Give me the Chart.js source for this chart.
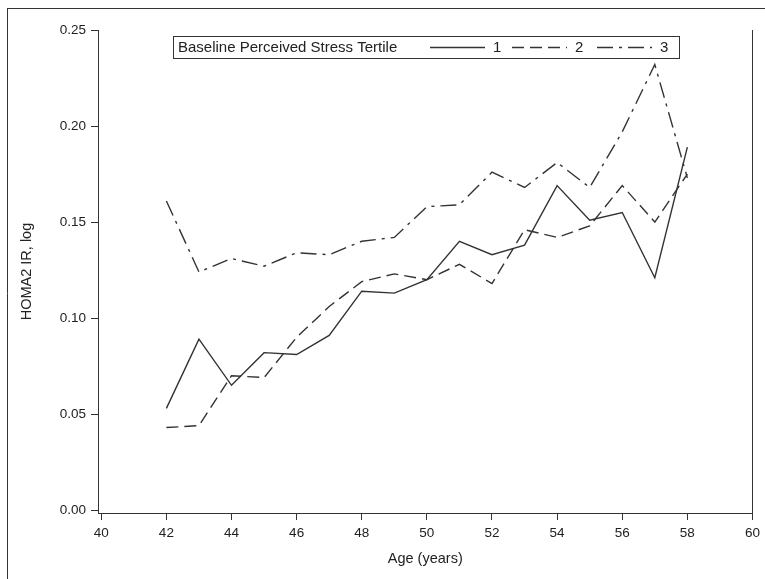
<!DOCTYPE html>
<html>
<head>
<meta charset="utf-8">
<script src="https://cdn.jsdelivr.net/npm/chart.js@4"></script>
<style>
  html, body { margin: 0; padding: 0; background: #fff; }
  #wrap { width: 765px; height: 579px; }
</style>
</head>
<body>
<div id="wrap"><canvas id="stressChart" width="765" height="579"></canvas></div>
<script>
  // ages on x, one array per perceived-stress tertile
  const ages = [42, 43, 44, 45, 46, 47, 48, 49, 50, 51, 52, 53, 54, 55, 56, 57, 58];
  const tertile1 = [0.053, 0.089, 0.065, 0.082, 0.081, 0.091, 0.114, 0.113, 0.120, 0.140, 0.133, 0.138, 0.169, 0.151, 0.155, 0.121, 0.189];
  const tertile2 = [0.043, 0.044, 0.070, 0.069, 0.090, 0.106, 0.119, 0.123, 0.120, 0.128, 0.118, 0.146, 0.142, 0.148, 0.169, 0.150, 0.175];
  const tertile3 = [0.161, 0.124, 0.131, 0.127, 0.134, 0.133, 0.140, 0.142, 0.158, 0.159, 0.176, 0.168, 0.181, 0.168, 0.197, 0.232, 0.173];
  const seriesLabels = ["1", "2", "3"];
  const xTicks = [40, 42, 44, 46, 48, 50, 52, 54, 56, 58, 60];
  const yTicks = [0, 0.05, 0.1, 0.15, 0.2, 0.25];

  const ink = "#333";
  const family = "'Liberation Sans', Arial, sans-serif";
  const tickFont = { family: family, size: 13.5 };
  const titleFont = { family: family, size: 14.5 };

  function toPoints(vals) {
    return ages.map((a, i) => ({ x: a, y: vals[i] }));
  }

  // legend drawn inline: title then sample + label, inside a box
  const boxLegend = {
    id: "boxLegend",
    afterDraw(chart) {
      const c = chart.ctx;
      c.save();
      c.fillStyle = "#fff";
      c.fillRect(173, 36, 506, 22);
      c.strokeStyle = ink;
      c.lineWidth = 1;
      c.strokeRect(173.5, 36.5, 506, 22);
      c.font = "15px " + family;
      c.fillStyle = "#222";
      c.textBaseline = "middle";
      c.fillText("Baseline Perceived Stress Tertile", 178, 48);
      const starts = [430, 512, 597];
      chart.data.datasets.forEach((ds, i) => {
        c.beginPath();
        c.setLineDash(ds.borderDash || []);
        c.lineWidth = ds.borderWidth;
        c.strokeStyle = ds.borderColor;
        c.moveTo(starts[i], 47.5);
        c.lineTo(starts[i] + 55, 47.5);
        c.stroke();
        c.setLineDash([]);
        c.fillText(ds.label, starts[i] + 63, 48);
      });
      c.restore();
    }
  };

  // outer frame pieces and right edge of plot
  const frame = {
    id: "frame",
    afterDraw(chart) {
      const c = chart.ctx;
      const a = chart.chartArea;
      c.save();
      c.strokeStyle = ink;
      c.lineWidth = 1;
      c.beginPath();
      c.moveTo(7, 8.5);
      c.lineTo(765, 8.5);
      c.moveTo(7.5, 8);
      c.lineTo(7.5, 579);
      c.moveTo(Math.round(a.right) + 0.5, a.top);
      c.lineTo(Math.round(a.right) + 0.5, a.bottom);
      c.stroke();
      c.restore();
    }
  };

  const ctx = document.getElementById("stressChart").getContext("2d");
  new Chart(ctx, {
    type: "line",
    data: {
      datasets: [
        { label: seriesLabels[0], data: toPoints(tertile1), borderColor: ink, borderWidth: 1.4, pointRadius: 0, borderDash: [] },
        { label: seriesLabels[1], data: toPoints(tertile2), borderColor: ink, borderWidth: 1.4, pointRadius: 0, borderDash: [12, 6] },
        { label: seriesLabels[2], data: toPoints(tertile3), borderColor: ink, borderWidth: 1.4, pointRadius: 0, borderDash: [16, 6, 3, 6] },
      ],
    },
    options: {
      responsive: false,
      animation: false,
      layout: { padding: { top: 30, right: 12, left: 0, bottom: 0 } },
      plugins: { legend: { display: false }, tooltip: { enabled: false } },
      scales: {
        x: {
          type: "linear",
          min: 39.9,
          max: 60,
          afterBuildTicks: (s) => { s.ticks = xTicks.map((v) => ({ value: v })); },
          afterFit: (s) => { s.height = 66; },
          ticks: { color: "#222", font: tickFont, padding: 5, maxRotation: 0, callback: (v) => v },
          grid: { drawOnChartArea: false, tickLength: 7, color: ink },
          border: { color: ink, width: 1 },
          title: { display: true, text: "Age (years)", color: "#222", font: titleFont, padding: { top: 0, bottom: 11 } },
        },
        y: {
          min: -0.0015,
          max: 0.25,
          afterBuildTicks: (s) => { s.ticks = yTicks.map((v) => ({ value: v })); },
          afterFit: (s) => { s.width = 98; },
          ticks: { color: "#222", font: tickFont, padding: 5, callback: (v) => v.toFixed(2) },
          grid: { drawOnChartArea: false, tickLength: 7, color: ink },
          border: { color: ink, width: 1 },
          title: { display: true, text: "HOMA2 IR, log", color: "#222", font: titleFont, padding: { top: 18, bottom: 0 } },
        },
      },
    },
    plugins: [boxLegend, frame],
  });
</script>
</body>
</html>
